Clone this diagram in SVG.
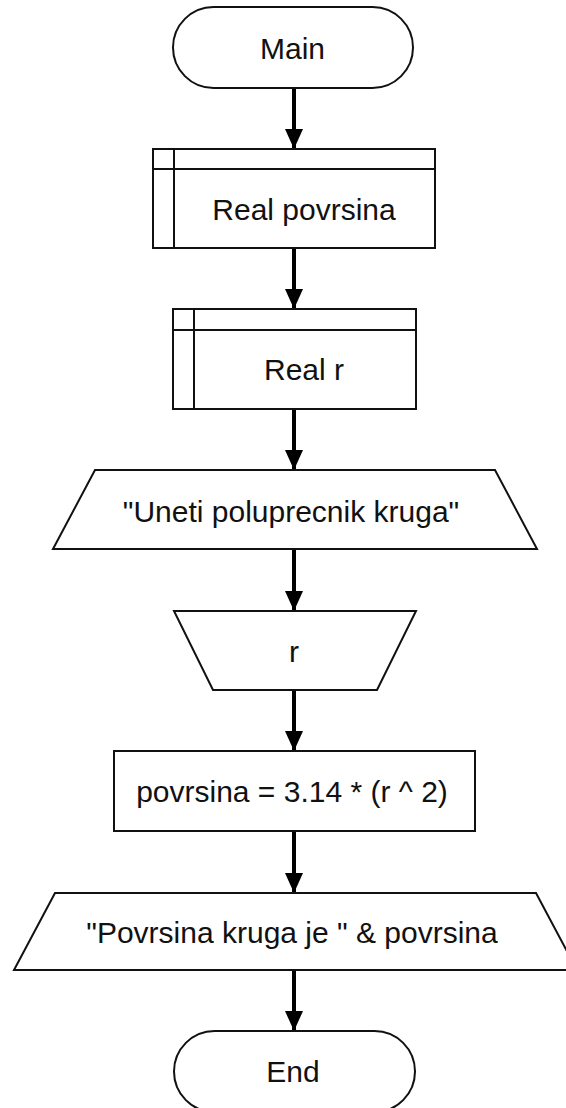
<svg xmlns="http://www.w3.org/2000/svg" width="566" height="1108" viewBox="0 0 566 1108">
  <style>
    .shape { fill: #ffffff; stroke: #111111; stroke-width: 2; }
    .inner { fill: none; stroke: #111111; stroke-width: 2; }
    .label { font-family: "Liberation Sans", Arial, sans-serif; font-size: 30px; fill: #111111; text-anchor: middle; }
    .conn { stroke: #000000; stroke-width: 4; fill: none; marker-end: url(#arrow); }
  </style>
  <defs>
    <marker id="arrow" markerUnits="userSpaceOnUse" markerWidth="20" markerHeight="20" viewBox="0 0 20 20" refX="20" refY="10" orient="auto">
      <path d="M0,1 L20,10 L0,19 Z" fill="#000000"/>
    </marker>
  </defs>
  <rect width="566" height="1108" fill="#ffffff"/>

  <g id="connectors">
    <line class="conn" x1="294" y1="88" x2="294" y2="149"/>
    <line class="conn" x1="294" y1="248" x2="294" y2="309"/>
    <line class="conn" x1="294" y1="409" x2="294" y2="470"/>
    <line class="conn" x1="294" y1="549" x2="294" y2="611"/>
    <line class="conn" x1="294" y1="690" x2="294" y2="751"/>
    <line class="conn" x1="294" y1="831" x2="294" y2="893"/>
    <line class="conn" x1="294" y1="970" x2="294" y2="1031"/>
  </g>

  <g id="main">
    <rect class="shape" x="173" y="7" width="240" height="81" rx="40.5" ry="40.5"/>
    <text class="label" x="292.5" y="59">Main</text>
  </g>

  <g id="decl-povrsina">
    <rect class="shape" x="153" y="149" width="282" height="99"/>
    <line class="inner" x1="174" y1="149" x2="174" y2="248"/>
    <line class="inner" x1="153" y1="169" x2="435" y2="169"/>
    <text class="label" x="304" y="220">Real povrsina</text>
  </g>

  <g id="decl-r">
    <rect class="shape" x="173" y="309" width="243" height="100"/>
    <line class="inner" x1="194" y1="309" x2="194" y2="409"/>
    <line class="inner" x1="173" y1="330" x2="416" y2="330"/>
    <text class="label" x="304" y="380">Real r</text>
  </g>

  <g id="output-prompt">
    <polygon class="shape" points="95,470 495,470 537,549 53,549"/>
    <text class="label" x="291" y="522">"Uneti poluprecnik kruga"</text>
  </g>

  <g id="input-r">
    <polygon class="shape" points="174,611 416,611 377,690 213,690"/>
    <text class="label" x="294" y="662">r</text>
  </g>

  <g id="assign">
    <rect class="shape" x="114" y="751" width="361" height="80"/>
    <text class="label" x="292" y="802">povrsina = 3.14 * (r ^ 2)</text>
  </g>

  <g id="output-result">
    <polygon class="shape" points="55,893 536,893 577,970 14,970"/>
    <text class="label" x="292" y="943">"Povrsina kruga je " &amp; povrsina</text>
  </g>

  <g id="end">
    <rect class="shape" x="174" y="1031" width="241" height="81" rx="40.5" ry="40.5"/>
    <text class="label" x="293" y="1082">End</text>
  </g>
</svg>
